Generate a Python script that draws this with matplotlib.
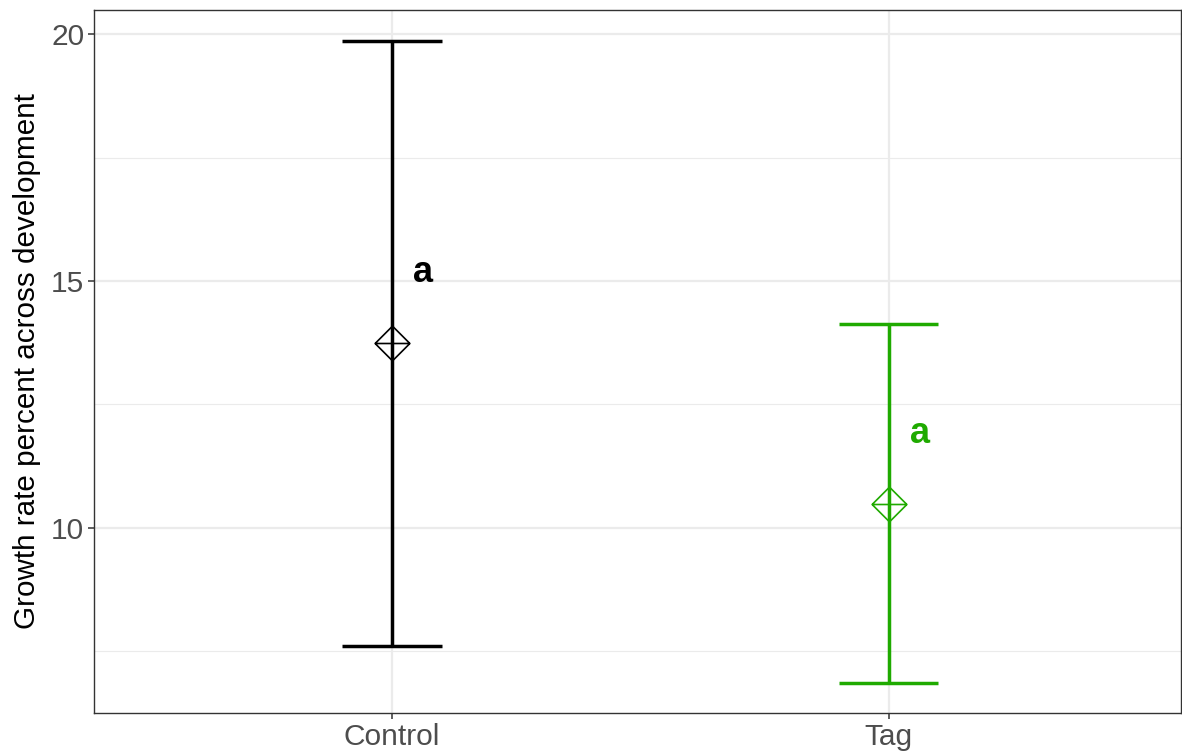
import numpy as np
import matplotlib
matplotlib.use("Agg")
import matplotlib.pyplot as plt
from matplotlib.path import Path
from matplotlib.ticker import MultipleLocator

plt.rcParams['font.family'] = ['Liberation Sans', 'DejaVu Sans']

# data
groups = ['Control', 'Tag']
means = [13.74, 10.49]
lower = [7.61, 6.86]
upper = [19.86, 14.13]
letters = ['a', 'a']
letter_y = [15.18, 11.92]
colors = ['#000000', '#1FAA00']

# diamond with a cross inside (like R pch 9)
verts = [(0, 1), (1, 0), (0, -1), (-1, 0), (0, 1),
         (0, 1), (0, -1), (-1, 0), (1, 0)]
codes = [Path.MOVETO, Path.LINETO, Path.LINETO, Path.LINETO, Path.LINETO,
         Path.MOVETO, Path.LINETO, Path.MOVETO, Path.LINETO]
diamond_plus = Path(verts, codes)

fig = plt.figure(figsize=(11.82, 7.55), dpi=100)
ax = fig.add_axes([0.0795, 0.0556, 0.9195, 0.9312])

x = np.arange(1, len(groups) + 1)
for i in range(len(groups)):
    ax.plot([x[i], x[i]], [lower[i], upper[i]], color=colors[i], lw=2.5,
            solid_capstyle='butt', zorder=3)
    for yv in (lower[i], upper[i]):
        ax.plot([x[i] - 0.1, x[i] + 0.1], [yv, yv], color=colors[i], lw=2.5,
                solid_capstyle='butt', zorder=3)
    ax.plot(x[i], means[i], marker=diamond_plus, markersize=25,
            markerfacecolor='none', markeredgecolor=colors[i],
            markeredgewidth=1.2, linestyle='none', zorder=4)
    ax.text(x[i] + 0.063, letter_y[i], letters[i], color=colors[i],
            fontsize=26, fontweight='bold', ha='center', va='center', zorder=5)

ax.set_xlim(0.4, 2.588)
ax.set_ylim(6.25, 20.49)
ax.set_xticks(x)
ax.set_xticklabels(groups)
ax.yaxis.set_major_locator(MultipleLocator(5))
ax.yaxis.set_minor_locator(MultipleLocator(2.5))

ax.grid(which='major', color='#EBEBEB', lw=1.6, zorder=0)
ax.grid(which='minor', axis='y', color='#EBEBEB', lw=0.8, zorder=0)
ax.set_axisbelow(True)
ax.tick_params(which='major', length=4, width=1.1, color='#333333',
               labelsize=21.5, labelcolor='#4D4D4D', pad=3)
ax.tick_params(which='minor', length=0)
for s in ax.spines.values():
    s.set_color('#333333')
    s.set_linewidth(1.0)

ax.set_ylabel('Growth rate percent across development', fontsize=21.3,
              color='black', labelpad=7)

fig.savefig('out.png', dpi=100)
